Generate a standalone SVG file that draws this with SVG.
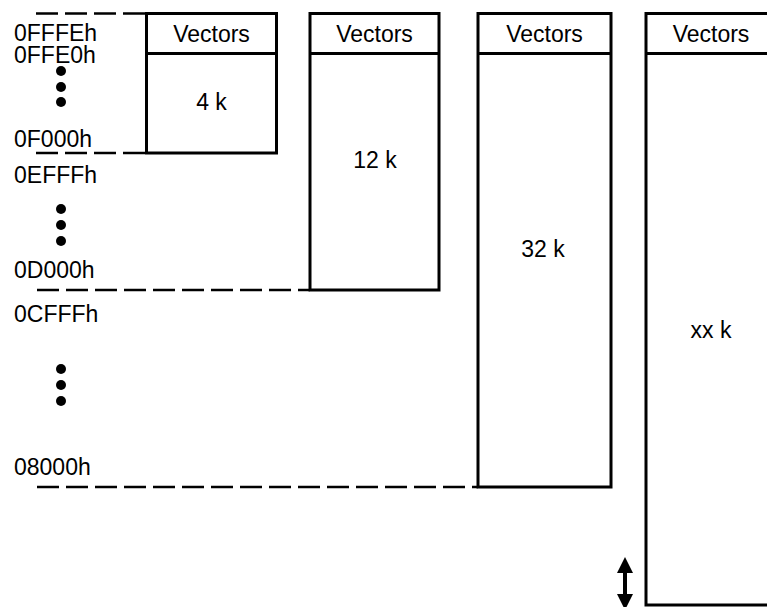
<svg xmlns="http://www.w3.org/2000/svg" width="767" height="607" viewBox="0 0 767 607">
<style>
.t{font-family:"Liberation Sans",Arial,sans-serif;font-size:23px;fill:#000}
.m{text-anchor:middle}
.box{fill:#fff;stroke:#000;stroke-width:3}
.dash{stroke:#000;stroke-width:2.5;stroke-dasharray:22 7;fill:none}
</style>
<defs>
<marker id="ah" viewBox="0 0 10 10" refX="0" refY="5" markerWidth="16" markerHeight="16" markerUnits="userSpaceOnUse" orient="auto-start-reverse">
<path d="M0,0 L10,5 L0,10 Z" fill="#000"/>
</marker>
</defs>
<g id="connectors">
<line class="dash" x1="36" y1="13.5" x2="146" y2="13.5"/>
<line class="dash" x1="36" y1="153" x2="146" y2="153"/>
<line class="dash" x1="37" y1="290" x2="310" y2="290"/>
<line class="dash" x1="37" y1="487" x2="478" y2="487"/>
<line x1="625" y1="573" x2="625" y2="594" stroke="#000" stroke-width="4" marker-start="url(#ah)" marker-end="url(#ah)"/>
</g>
<g id="labels">
<text class="t" x="14" y="41">0FFFEh</text>
<text class="t" x="14" y="63">0FFE0h</text>
<text class="t" x="14" y="147">0F000h</text>
<text class="t" x="14" y="183">0EFFFh</text>
<text class="t" x="14" y="278">0D000h</text>
<text class="t" x="14" y="322">0CFFFh</text>
<text class="t" x="14" y="475">08000h</text>
</g>
<g id="dots" fill="#000">
<circle cx="61" cy="71" r="5"/><circle cx="61" cy="87" r="5"/><circle cx="61" cy="102" r="5"/>
<circle cx="61" cy="209" r="5"/><circle cx="61" cy="225" r="5"/><circle cx="61" cy="241" r="5"/>
<circle cx="61" cy="369" r="5"/><circle cx="61" cy="385" r="5"/><circle cx="61" cy="401" r="5"/>
</g>
<g id="mem4k">
<rect class="box" x="146.5" y="13.5" width="130" height="139.5"/>
<line x1="146.5" y1="53.5" x2="276.5" y2="53.5" stroke="#000" stroke-width="3"/>
<text class="t m" x="211.5" y="42">Vectors</text>
<text class="t m" x="211.5" y="110">4 k</text>
</g>
<g id="mem12k">
<rect class="box" x="310" y="13.5" width="129" height="276.5"/>
<line x1="310" y1="53.5" x2="439" y2="53.5" stroke="#000" stroke-width="3"/>
<text class="t m" x="374.5" y="42">Vectors</text>
<text class="t m" x="375" y="168">12 k</text>
</g>
<g id="mem32k">
<rect class="box" x="478" y="13.5" width="133" height="473.5"/>
<line x1="478" y1="53.5" x2="611" y2="53.5" stroke="#000" stroke-width="3"/>
<text class="t m" x="544.5" y="42">Vectors</text>
<text class="t m" x="543" y="257">32 k</text>
</g>
<g id="memxxk">
<rect class="box" x="646" y="13.5" width="140" height="591.5"/>
<line x1="646" y1="53.5" x2="786" y2="53.5" stroke="#000" stroke-width="3"/>
<text class="t m" x="711" y="42">Vectors</text>
<text class="t m" x="711" y="338">xx k</text>
</g>
</svg>
